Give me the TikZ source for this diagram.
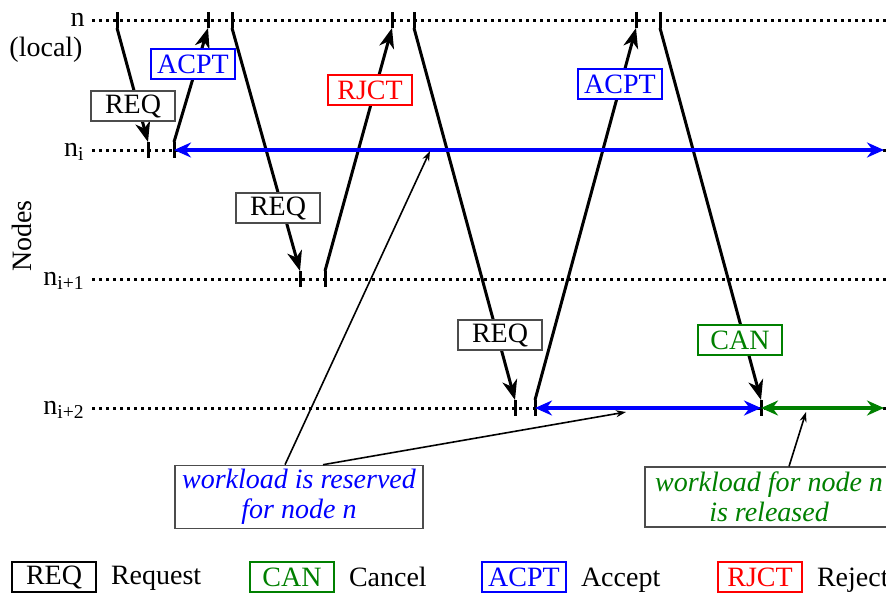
\documentclass[tikz,border=0pt]{standalone}
\usepackage{fontspec}
\setmainfont{Liberation Serif}
\usetikzlibrary{arrows.meta,positioning}
\definecolor{acpt}{RGB}{0,0,255}
\definecolor{can}{RGB}{0,128,0}
\definecolor{rjct}{RGB}{255,0,0}

\begin{document}
\begin{tikzpicture}[x=0.5pt,y=-0.5pt,font=\fontsize{14}{16}\selectfont,
    msg/.style={draw=black!70,line width=0.6pt,fill=white,minimum width=42pt,minimum height=15pt,inner sep=1pt},
    lane/.style={line width=1.5pt,dash pattern=on 1.5pt off 2pt},
    tick/.style={line width=1.5pt},
    sig/.style={line width=1.5pt,-{Stealth[length=10pt,width=7.5pt,inset=3pt]}},
    span/.style={line width=2.2pt,{Stealth[length=8.5pt,width=7.5pt]}-{Stealth[length=8.5pt,width=7.5pt]}},
    note/.style={draw=black!70,line width=0.6pt,fill=white,align=center,font=\fontsize{14}{15}\selectfont\itshape,inner sep=2pt,minimum width=124pt,minimum height=30pt},
    ptr/.style={line width=0.8pt,-{Stealth[length=5pt,width=3.5pt]}}]
  \useasboundingbox (0,0) rectangle (886,594);
  \clip (0,0) rectangle (886,594);

  % rows of nodes
  \foreach \nd/\y/\txt in {n/20/n, ni/150/n\textsubscript{i}, nj/279/n\textsubscript{i+1}, nk/408/n\textsubscript{i+2}}{
    \node[anchor=base east,inner sep=1pt] (\nd) at (87,\y+6) {\txt};
    \coordinate (\nd-start) at (92,\y);
    \coordinate (\nd-end) at (886,\y);
    \draw[lane] (\nd-start) -- (\nd-end);
  }
  \node (loc) at (46,50) {(local)};
  \node[rotate=90] (axis) at (22,236) {Nodes};

  % send / receive events
  \foreach \ev/\x/\y in {r1s/117/20, r1e/148/150, a1s/174/150, a1e/208/20, r2s/232/20, r2e/300/279,
      j1s/325/279, j1e/392/20, r3s/414/20, r3e/515/408, a2s/535/408, a2e/636/20, c1s/660/20, c1e/761/408}{
    \coordinate (\ev) at (\x,\y);
    \draw[tick] ([yshift=4pt]\ev) -- ([yshift=-4pt]\ev);
  }
  \foreach \a/\b in {r1s/r1e,r2s/r2e,r3s/r3e,c1s/c1e}{
    \draw[sig] ([yshift=-4pt]\a) -- ([yshift=4pt]\b);}
  \foreach \a/\b in {a1s/a1e,j1s/j1e,a2s/a2e}{
    \draw[sig] ([yshift=4pt]\a) -- ([yshift=-4pt]\b);}

  % reserved / released spans
  \coordinate (ni-tip) at (884,150);
  \coordinate (nk-tip) at (884,408);
  \draw[span,acpt] (a1s) -- (ni-tip);
  \draw[span,acpt] (a2s) -- (c1e);
  \draw[span,can] (c1e) -- (nk-tip);

  % message labels
  \node[msg] (lr1) at (133,106) {REQ};
  \node[msg,draw=acpt,text=acpt] (la1) at (193,64) {ACPT};
  \node[msg] (lr2) at (278,208) {REQ};
  \node[msg,draw=rjct,text=rjct] (lj1) at (370,90) {RJCT};
  \node[msg,draw=acpt,text=acpt] (la2) at (620,84) {ACPT};
  \node[msg] (lr3) at (500,335) {REQ};
  \node[msg,draw=can,text=can] (lc1) at (740,340) {CAN};

  % notes
  \node[note,text=acpt] (res) at (299,497) {workload is reserved\\for node n};
  \node[note,text=can] (rel) at (769,497) {workload for node n\\is released};
  \coordinate (pi) at (430,151);
  \coordinate (pk) at (626,412);
  \coordinate (pc) at (806,412);
  \draw[ptr] ([xshift=-7pt]res.north) -- (pi);
  \draw[ptr] ([xshift=12pt]res.north) -- (pk);
  \draw[ptr] ([xshift=10pt]rel.north) -- (pc);

  % legend
  \foreach \k/\x/\c/\txt in {REQ/54/black/Request, CAN/292/can/Cancel, ACPT/524/acpt/Accept, RJCT/760/rjct/Reject}{
    \node[msg,draw=\c,text=\c] (key-\k) at (\x,577) {\k};
    \node[anchor=base west,inner sep=0pt] (txt-\k) at ([xshift=7pt]key-\k.base east) {\txt};
  }
\end{tikzpicture}
\end{document}
